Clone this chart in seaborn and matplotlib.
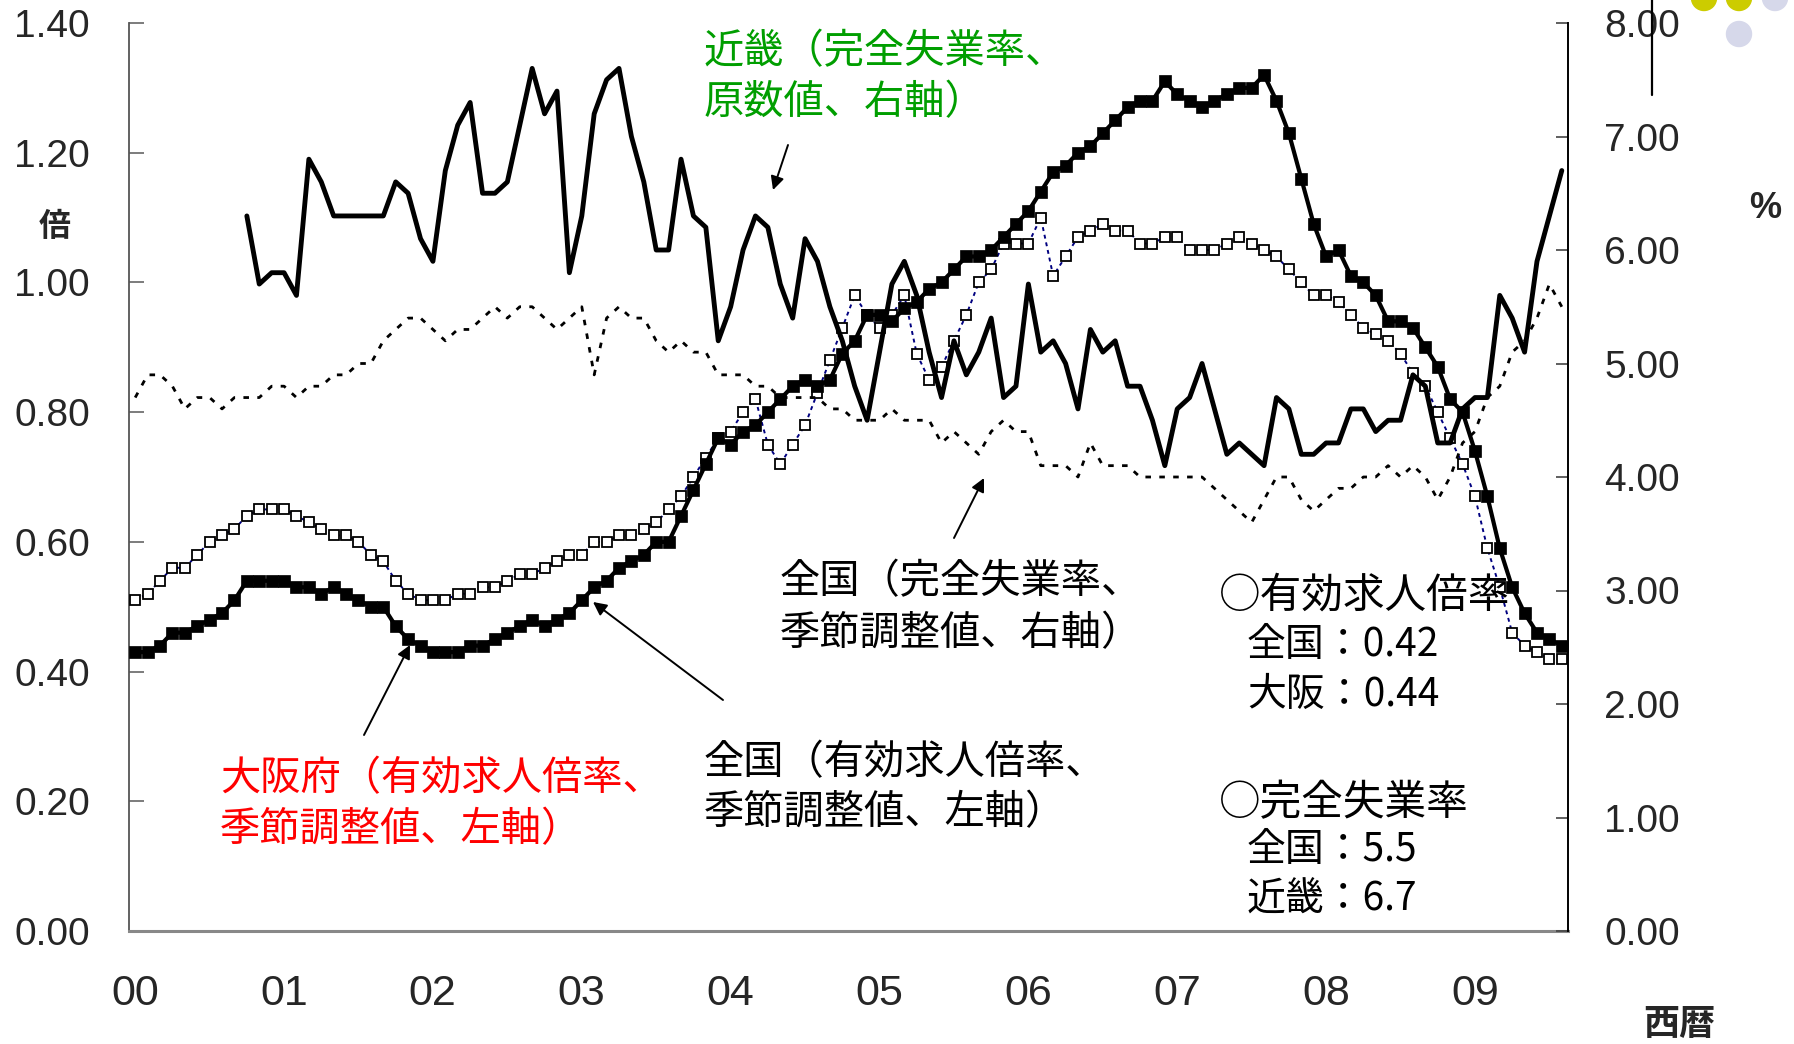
import numpy as np
import pandas as pd
import matplotlib
matplotlib.use("Agg")
import matplotlib.pyplot as plt
import matplotlib.transforms as mtransforms
import seaborn as sns
from matplotlib.patches import Ellipse
from matplotlib.lines import Line2D

# monthly values, Jan 2000 - Aug 2009
osaka_ratio = [0.43, 0.43, 0.44, 0.46, 0.46, 0.47, 0.48, 0.49, 0.51, 0.54,
               0.54, 0.54, 0.54, 0.53, 0.53, 0.52, 0.53, 0.52, 0.51, 0.50,
               0.50, 0.47, 0.45, 0.44, 0.43, 0.43, 0.43, 0.44, 0.44, 0.45,
               0.46, 0.47, 0.48, 0.47, 0.48, 0.49, 0.51, 0.53, 0.54, 0.56,
               0.57, 0.58, 0.60, 0.60, 0.64, 0.68, 0.72, 0.76, 0.75, 0.77,
               0.78, 0.80, 0.82, 0.84, 0.85, 0.84, 0.85, 0.89, 0.91, 0.95,
               0.95, 0.94, 0.96, 0.97, 0.99, 1.00, 1.02, 1.04, 1.04, 1.05,
               1.07, 1.09, 1.11, 1.14, 1.17, 1.18, 1.20, 1.21, 1.23, 1.25,
               1.27, 1.28, 1.28, 1.31, 1.29, 1.28, 1.27, 1.28, 1.29, 1.30,
               1.30, 1.32, 1.28, 1.23, 1.16, 1.09, 1.04, 1.05, 1.01, 1.00,
               0.98, 0.94, 0.94, 0.93, 0.90, 0.87, 0.82, 0.80, 0.74, 0.67,
               0.59, 0.53, 0.49, 0.46, 0.45, 0.44]

japan_ratio = [0.51, 0.52, 0.54, 0.56, 0.56, 0.58, 0.60, 0.61, 0.62, 0.64,
               0.65, 0.65, 0.65, 0.64, 0.63, 0.62, 0.61, 0.61, 0.60, 0.58,
               0.57, 0.54, 0.52, 0.51, 0.51, 0.51, 0.52, 0.52, 0.53, 0.53,
               0.54, 0.55, 0.55, 0.56, 0.57, 0.58, 0.58, 0.60, 0.60, 0.61,
               0.61, 0.62, 0.63, 0.65, 0.67, 0.70, 0.73, 0.76, 0.77, 0.80,
               0.82, 0.75, 0.72, 0.75, 0.78, 0.83, 0.88, 0.93, 0.98, 0.95,
               0.93, 0.95, 0.98, 0.89, 0.85, 0.87, 0.91, 0.95, 1.00, 1.02,
               1.06, 1.06, 1.06, 1.10, 1.01, 1.04, 1.07, 1.08, 1.09, 1.08,
               1.08, 1.06, 1.06, 1.07, 1.07, 1.05, 1.05, 1.05, 1.06, 1.07,
               1.06, 1.05, 1.04, 1.02, 1.00, 0.98, 0.98, 0.97, 0.95, 0.93,
               0.92, 0.91, 0.89, 0.86, 0.84, 0.80, 0.76, 0.72, 0.67, 0.59,
               0.53, 0.46, 0.44, 0.43, 0.42, 0.42]

japan_unemp = [4.7, 4.9, 4.9, 4.8, 4.6, 4.7, 4.7, 4.6, 4.7, 4.7,
               4.7, 4.8, 4.8, 4.7, 4.8, 4.8, 4.9, 4.9, 5.0, 5.0,
               5.2, 5.3, 5.4, 5.4, 5.3, 5.2, 5.3, 5.3, 5.4, 5.5,
               5.4, 5.5, 5.5, 5.4, 5.3, 5.4, 5.5, 4.9, 5.4, 5.5,
               5.4, 5.4, 5.2, 5.1, 5.2, 5.1, 5.1, 4.9, 4.9, 4.9,
               4.8, 4.8, 4.7, 4.7, 4.7, 4.7, 4.6, 4.6, 4.5, 4.5,
               4.5, 4.6, 4.5, 4.5, 4.5, 4.3, 4.4, 4.3, 4.2, 4.4,
               4.5, 4.4, 4.4, 4.1, 4.1, 4.1, 4.0, 4.3, 4.1, 4.1,
               4.1, 4.0, 4.0, 4.0, 4.0, 4.0, 4.0, 3.9, 3.8, 3.7,
               3.6, 3.8, 4.0, 4.0, 3.8, 3.7, 3.8, 3.9, 3.9, 4.0,
               4.0, 4.1, 4.0, 4.1, 4.0, 3.8, 4.0, 4.3, 4.4, 4.7,
               4.8, 5.1, 5.2, 5.4, 5.7, 5.5]

# Kinki raw unemployment, Oct 2000 - Aug 2009
kinki_start = 9
kinki_unemp = [6.3, 5.7, 5.8, 5.8, 5.6, 6.8, 6.6, 6.3, 6.3, 6.3, 6.3,
               6.3, 6.6, 6.5, 6.1, 5.9, 6.7, 7.1, 7.3, 6.5, 6.5,
               6.6, 7.1, 7.6, 7.2, 7.4, 5.8, 6.3, 7.2, 7.5, 7.6,
               7.0, 6.6, 6.0, 6.0, 6.8, 6.3, 6.2, 5.2, 5.5, 6.0,
               6.3, 6.2, 5.7, 5.4, 6.1, 5.9, 5.5, 5.2, 4.8, 4.5,
               5.1, 5.7, 5.9, 5.6, 5.1, 4.7, 5.2, 4.9, 5.1, 5.4,
               4.7, 4.8, 5.7, 5.1, 5.2, 5.0, 4.6, 5.3, 5.1, 5.2,
               4.8, 4.8, 4.5, 4.1, 4.6, 4.7, 5.0, 4.6, 4.2, 4.3,
               4.2, 4.1, 4.7, 4.6, 4.2, 4.2, 4.3, 4.3, 4.6, 4.6,
               4.4, 4.5, 4.5, 4.9, 4.8, 4.3, 4.3, 4.6, 4.7, 4.7,
               5.6, 5.4, 5.1, 5.9, 6.3, 6.7]

year_labels = ["00", "01", "02", "03", "04", "05", "06", "07", "08", "09"]

n = len(osaka_ratio)
pos = np.arange(n) + 0.5          # category centres, month i
left_df = pd.DataFrame({"pos": pos, "osaka": osaka_ratio, "japan": japan_ratio})
right_df = pd.DataFrame({"pos": pos, "japan": japan_unemp})
kinki_df = pd.DataFrame({"pos": pos[kinki_start:], "kinki": kinki_unemp})

sns.set_style("white")
plt.rcParams["font.family"] = ["Liberation Sans", "Noto Sans CJK JP", "DejaVu Sans"]
cjk = ["Noto Sans CJK JP", "DejaVu Sans"]

W, H = 1794, 1044
fig = plt.figure(figsize=(W / 100, H / 100), dpi=100)
ax = fig.add_axes([129 / W, 1 - 931 / H, (1568 - 129) / W, (931 - 23) / H])
ax2 = ax.twinx()


def fp(x, y):
    return (x / W, 1 - y / H)


# left axis: job offer ratios
sns.lineplot(data=left_df, x="pos", y="japan", ax=ax, estimator=None,
             color="#000080", lw=1.4, linestyle=(0, (2, 2)),
             marker="s", markersize=7.5, markerfacecolor="white",
             markeredgecolor="black", markeredgewidth=1.3, zorder=3)
sns.lineplot(data=left_df, x="pos", y="osaka", ax=ax, estimator=None,
             color="black", lw=3.0, marker="s", markersize=9,
             markerfacecolor="black", markeredgecolor="black",
             markeredgewidth=0.5, zorder=4)

# right axis: unemployment rates
sns.lineplot(data=right_df, x="pos", y="japan", ax=ax2, estimator=None,
             color="black", lw=2.0, linestyle=(0, (2.0, 3.0)))
sns.lineplot(data=kinki_df, x="pos", y="kinki", ax=ax2, estimator=None,
             color="black", lw=3.5)

ax.set_xlim(0, n)
ax.set_ylim(0, 1.4)
ax2.set_ylim(0, 8)
ax.set_xlabel("")
ax.set_ylabel("")
ax2.set_xlabel("")
ax2.set_ylabel("")

ax.set_xticks(np.arange(0, n, 12))
ax.set_xticklabels(year_labels)
ax.set_yticks(np.arange(0, 1.41, 0.2))
ax.set_yticklabels([f"{v:.2f}" for v in np.arange(0, 1.41, 0.2)])
ax2.set_yticks(np.arange(0, 9, 1))
ax2.set_yticklabels([f"{v:.2f}" for v in np.arange(0, 9, 1)])

ax.tick_params(axis="y", direction="in", length=11, width=1.2, color="#666666",
               pad=28, labelsize=28)
ax.tick_params(axis="x", direction="in", length=10, width=1.0, color="#666666",
               pad=31, labelsize=31)
ax2.tick_params(axis="y", direction="in", length=9, width=1.2, color="#444444",
                pad=26, labelsize=28)
shift = mtransforms.ScaledTranslation(6 / 100, 0, fig.dpi_scale_trans)
for lab in ax.get_xticklabels():
    lab.set_transform(lab.get_transform() + shift)

ax.spines["top"].set_visible(False)
ax2.spines["top"].set_visible(False)
ax2.spines["left"].set_visible(False)
ax2.spines["bottom"].set_visible(False)
ax.spines["right"].set_visible(False)
ax.spines["left"].set_color("#555555")
ax.spines["left"].set_linewidth(1.3)
ax.spines["bottom"].set_color("#888888")
ax.spines["bottom"].set_linewidth(2.2)
ax2.spines["right"].set_color("black")
ax2.spines["right"].set_linewidth(1.4)

# unit labels
fig.text(*fp(55, 227), "倍", ha="center", va="center", fontsize=23,
         fontweight="bold", family=cjk)
fig.text(*fp(1765, 209), "%", ha="center", va="center", fontsize=26,
         fontweight="bold")
fig.text(*fp(1679, 1025), "西暦", ha="center", va="center", fontsize=26,
         fontweight="bold", family=cjk)

# series annotations
notes = [
    (704, 63, "近畿（完全失業率、", "#009E00", 29),
    (704, 114, "原数値、右軸）", "#009E00", 29),
    (780, 593, "全国（完全失業率、", "black", 29),
    (780, 645, "季節調整値、右軸）", "black", 29),
    (704, 774, "全国（有効求人倍率、", "black", 29),
    (704, 824, "季節調整値、左軸）", "black", 29),
    (220, 790, "大阪府（有効求人倍率、", "#FF0000", 29),
    (220, 841, "季節調整値、左軸）", "#FF0000", 29),
    (1219, 608, "○有効求人倍率", "black", 30),
    (1247, 656, "全国：0.42", "black", 28),
    (1247, 706, "大阪：0.44", "black", 28),
    (1219, 815, "○完全失業率", "black", 30),
    (1247, 861, "全国：5.5", "black", 28),
    (1247, 911, "近畿：6.7", "black", 28),
]
for x, y, s, c, fs in notes:
    fig.text(*fp(x, y), s, ha="left", va="baseline", fontsize=fs, color=c,
             family=cjk)

arrows = [((788, 145), (773, 190)),
          ((954, 538), (984, 478)),
          ((723, 700), (593, 602)),
          ((364, 735), (410, 645))]
for tail, tip in arrows:
    ax.annotate("", xy=fp(*tip), xytext=fp(*tail), xycoords="figure fraction",
                textcoords="figure fraction",
                arrowprops=dict(arrowstyle="-|>", color="black", lw=1.4,
                                mutation_scale=20, shrinkA=0, shrinkB=0))

# template decoration in the top right corner
for cx, cy, col in [(1704, -2, "#CCCC00"), (1739, -2, "#CCCC00"),
                    (1775, -2, "#D6D8EA"), (1739, 34, "#D6D8EA")]:
    fig.patches.append(Ellipse(fp(cx, cy), 25 / W, 25 / H, color=col,
                               transform=fig.transFigure, zorder=5))
fig.lines.append(Line2D([1652 / W, 1652 / W], [1, 1 - 95 / H], color="black",
                        lw=1.6, transform=fig.transFigure))

fig.savefig("out.png", dpi=100)
